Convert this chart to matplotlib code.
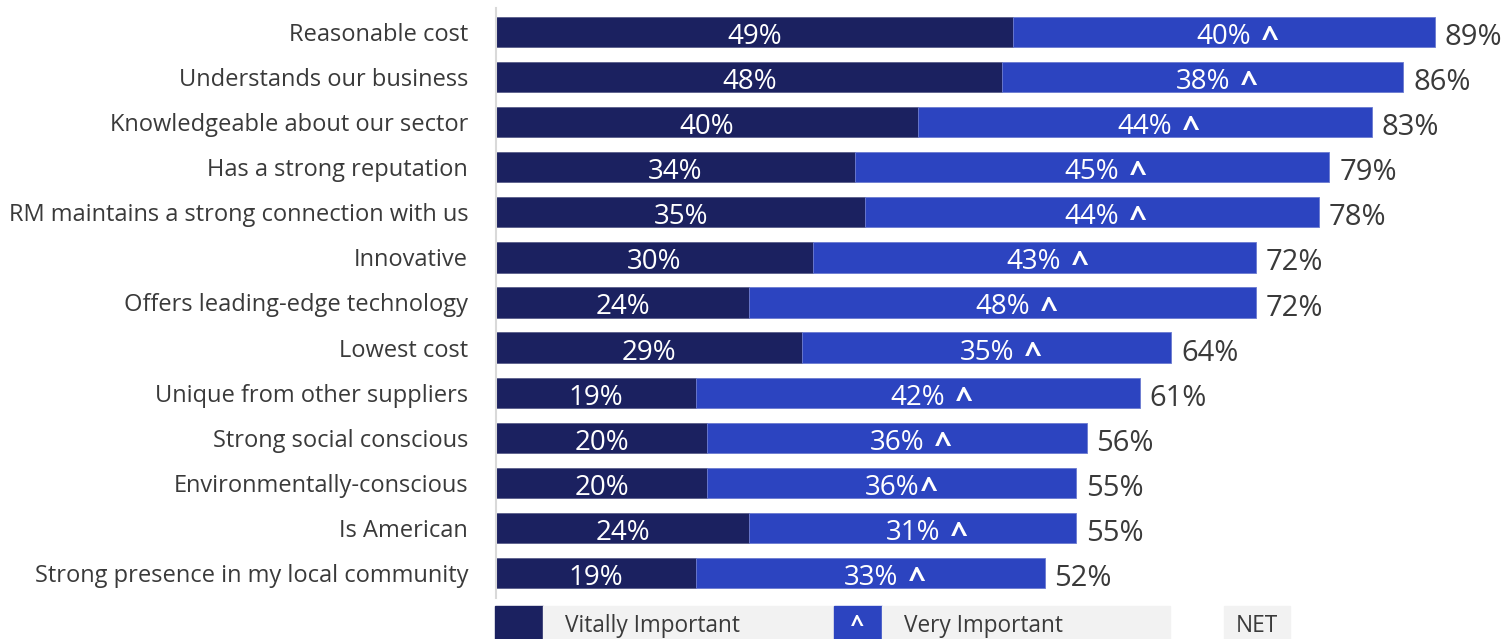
import matplotlib.pyplot as plt
import matplotlib.patches as mpatches

plt.rcParams['font.family'] = ['Open Sans', 'DejaVu Sans']

categories = ["Reasonable cost", "Understands our business", "Knowledgeable about our sector",
              "Has a strong reputation", "RM maintains a strong connection with us", "Innovative",
              "Offers leading-edge technology", "Lowest cost", "Unique from other suppliers",
              "Strong social conscious", "Environmentally-conscious", "Is American",
              "Strong presence in my local community"]
vital = [49, 48, 40, 34, 35, 30, 24, 29, 19, 20, 20, 24, 19]
very = [40, 38, 44, 45, 44, 43, 48, 35, 42, 36, 36, 31, 33]
net = [89, 86, 83, 79, 78, 72, 72, 64, 61, 56, 55, 55, 52]
very_labels = ["40% ^", "38% ^", "44% ^", "45% ^", "44% ^", "43% ^", "48% ^", "35% ^",
               "42% ^", "36% ^", "36%^", "31% ^", "33% ^"]

dark = '#1b2160'
blue = '#2c44c0'
grey_txt = '#3a3a3a'

W, H = 1507, 639
fig = plt.figure(figsize=(W / 100, H / 100), dpi=100)
ax = fig.add_axes([496 / W, 1 - 598 / H, (W - 496) / W, 590 / H])

y = list(range(len(categories)))
# blue segment runs from the vital end to the NET total (the labels are rounded)
rest = [n - v for n, v in zip(net, vital)]
ax.barh(y, vital, height=0.67, color=dark, edgecolor='#5a5f8a', linewidth=0.6)
ax.barh(y, rest, left=vital, height=0.67, color=blue, edgecolor='#6a7ad0', linewidth=0.6)

base = -8.6  # baseline offset (points) below bar centre
for i in y:
    ax.annotate(f"{vital[i]}%", (vital[i] / 2, i), xytext=(0, base), textcoords='offset points',
                ha='center', va='baseline', color='white', fontsize=20)
    lab = very_labels[i]
    num = lab.split('%')[0] + '%'
    cx = vital[i] + rest[i] / 2
    ax.annotate(num, (cx, i), xytext=(0, base), textcoords='offset points',
                ha='center', va='baseline', color='white', fontsize=20)
    gap = 27.5 if ' ^' in lab else 21
    ax.annotate("^", (cx, i), xytext=(gap, -5.8), textcoords='offset points',
                ha='left', va='center', color='white', fontsize=22, fontweight='bold')
    ax.annotate(f"{net[i]}%", (net[i], i), xytext=(7, base - 0.8), textcoords='offset points',
                ha='left', va='baseline', color=grey_txt, fontsize=21)

ax.set_xlim(0, (W - 496) / 10.55)
ax.set_ylim(12 + 25 / 45.08, -24 / 45.08)
ax.set_yticks(y)
ax.set_yticklabels(categories, fontsize=17, color=grey_txt)
ax.tick_params(axis='y', length=0, pad=20)
ax.set_xticks([])
for s in ['top', 'right', 'bottom']:
    ax.spines[s].set_visible(False)
ax.spines['left'].set_color('#d9d9d9')
ax.spines['left'].set_linewidth(1.5)

# legend strip along the bottom
def box(x0, x1, color):
    fig.patches.append(mpatches.Rectangle((x0 / W, 0), (x1 - x0) / W, 33 / H,
                                          transform=fig.transFigure, color=color))

box(495, 543, dark)
box(543, 833, '#f2f2f2')
box(834, 882, blue)
box(882, 1170, '#f2f2f2')
box(1224, 1290, '#f2f2f2')
fig.text(565 / W, 7 / H, "Vitally Important", ha='left', va='baseline', fontsize=16.3, color=grey_txt)
fig.text(857 / W, 1 / H, "^", ha='center', va='bottom', fontsize=17, color='white', fontweight='bold')
fig.text(904 / W, 7 / H, "Very Important", ha='left', va='baseline', fontsize=16.3, color=grey_txt)
fig.text(1257 / W, 7 / H, "NET", ha='center', va='baseline', fontsize=16.3, color=grey_txt)

fig.savefig("out.png", dpi=100)
